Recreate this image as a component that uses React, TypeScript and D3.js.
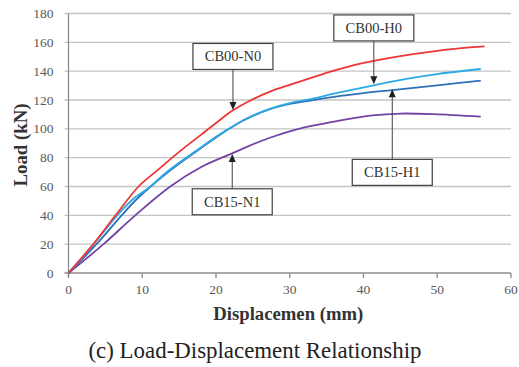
import React from 'react';
import * as d3 from 'd3';

type Pt = [number, number];

// displacement (mm) / load (kN)
const cb00N0: Pt[] = [
  [0, 0], [3.2, 19], [6.3, 39.5], [9.5, 60], [12, 71], [15, 84], [18, 96], [20, 104],
  [22.2, 112.5], [25, 120.5], [27.4, 126], [30, 130.5], [33, 135.5], [36, 140.3], [39, 144.5],
  [41.2, 147], [45, 150.5], [49.5, 153.8], [53, 155.8], [56.4, 157.2]
];
const cb00H0: Pt[] = [
  [0, 0], [3.4, 20], [6.6, 40], [8.8, 51.5], [11, 59.5], [12.5, 66.5], [13.8, 72], [17.5, 85.5],
  [20, 94.5], [21.9, 100.6], [24, 106.8], [27.4, 114], [30, 117.8], [33, 120.8], [36, 124.4],
  [41.4, 130.2], [46, 134.8], [50, 138], [55.9, 141.5]
];
const cb15H1: Pt[] = [
  [0, 0], [3.8, 20], [7.2, 40], [9.3, 51.5], [11.5, 61.5], [13.8, 71.2], [17.5, 85], [20, 94],
  [21.9, 100.4], [24, 106.5], [27.4, 113.8], [30, 117.3], [33, 119.8], [36, 122.2], [40, 124.8],
  [43.9, 126.9], [50, 130.2], [55.9, 133.4]
];
const cb15N1: Pt[] = [
  [0, 0], [4.75, 20], [9.05, 40], [13.8, 60], [18, 73.5], [22.2, 83], [24.5, 88.2], [27.4, 94],
  [30, 98.3], [32.8, 101.8], [36, 105], [41.2, 109.3], [45, 110.6], [49.5, 110.2], [55.9, 108.4]
];

const xTicks = [0, 10, 20, 30, 40, 50, 60];
const yTicks = [0, 20, 40, 60, 80, 100, 120, 140, 160, 180];

const series = [
  { name: 'CB15-N1', data: cb15N1, color: '#7244a4' },
  { name: 'CB15-H1', data: cb15H1, color: '#2f6fb8' },
  { name: 'CB00-H0', data: cb00H0, color: '#2caae3' },
  { name: 'CB00-N0', data: cb00N0, color: '#ef3535' }
];

// label, arrow x, arrow tip y, box centre y (data units)
const notes = [
  { label: 'CB00-N0', x: 22.3, tip: 113, box: 150.2 },
  { label: 'CB00-H0', x: 41.4, tip: 131, box: 170 },
  { label: 'CB15-H1', x: 43.9, tip: 127.4, box: 69.8 },
  { label: 'CB15-N1', x: 22.2, tip: 82.6, box: 49.4 }
];

const W = 519;
const H = 367;
const margin = { top: 13.5, right: 8, bottom: 94, left: 68.5 };
const serif = { fontFamily: 'Liberation Serif' };

export default function App() {
  const x = d3.scaleLinear().domain([0, 60]).range([margin.left, W - margin.right]);
  const y = d3.scaleLinear().domain([0, 180]).range([H - margin.bottom, margin.top]);
  const line = d3
    .line<Pt>()
    .x((d) => x(d[0]))
    .y((d) => y(d[1]))
    .curve(d3.curveCatmullRom.alpha(0.5));

  const bw = 80;
  const bh = 26;

  return (
    <svg width={W} height={H} style={{ position: 'absolute', left: 0, top: 0, background: '#fff' }}>
      {yTicks.map((t) => (
        <g key={t}>
          <line x1={x(0) - 4} x2={x(60)} y1={y(t)} y2={y(t)} stroke={t === 0 ? '#8c8c8c' : '#c4c4c4'} strokeWidth={1.3} />
          <text x={x(0) - 15} y={y(t) + 4.5} textAnchor="end" fontSize={13.5} fill="#595959" style={serif}>
            {t}
          </text>
        </g>
      ))}
      <line x1={x(0)} x2={x(0)} y1={y(0) + 4} y2={y(180)} stroke="#8c8c8c" strokeWidth={1.3} />
      {xTicks.map((t) => (
        <g key={t}>
          <line x1={x(t)} x2={x(t)} y1={y(0)} y2={y(0) + 5} stroke="#8c8c8c" strokeWidth={1.3} />
          <text x={x(t)} y={y(0) + 21} textAnchor="middle" fontSize={13.5} fill="#595959" style={serif}>
            {t}
          </text>
        </g>
      ))}

      {series.map((s) => (
        <path key={s.name} d={line(s.data) ?? ''} fill="none" stroke={s.color} strokeWidth={1.8} />
      ))}

      {notes.map((n) => {
        const cx = x(n.x);
        const by = y(n.box);
        const tip = y(n.tip);
        const down = tip > by;
        const start = down ? by + bh / 2 : by - bh / 2;
        const dir = down ? -1 : 1;
        return (
          <g key={n.label}>
            <line x1={cx} x2={cx} y1={start} y2={tip + dir * 6} stroke="#404040" strokeWidth={1} />
            <path
              d={`M${cx},${tip} L${cx - 3.5},${tip + dir * 8} L${cx + 3.5},${tip + dir * 8} Z`}
              fill="#202020"
            />
            <rect x={cx - bw / 2} y={by - bh / 2} width={bw} height={bh} fill="#fff" stroke="#404040" strokeWidth={1.2} />
            <text x={cx} y={by + 5} textAnchor="middle" fontSize={14.5} fill="#333" style={serif}>
              {n.label}
            </text>
          </g>
        );
      })}

      <text
        transform="translate(26.5,145) rotate(-90)"
        textAnchor="middle"
        fontSize={18}
        fontWeight="bold"
        fill="#333"
        textLength={83}
        lengthAdjust="spacingAndGlyphs"
        style={serif}
      >
        Load (kN)
      </text>
      <text
        x={288.3}
        y={319.5}
        textAnchor="middle"
        fontSize={18}
        fontWeight="bold"
        fill="#333"
        textLength={150}
        lengthAdjust="spacingAndGlyphs"
        style={serif}
      >
        Displacemen (mm)
      </text>
      <text
        x={255}
        y={358.3}
        textAnchor="middle"
        fontSize={22.5}
        fill="#222"
        textLength={333}
        lengthAdjust="spacingAndGlyphs"
        style={serif}
      >
        (c) Load-Displacement Relationship
      </text>
    </svg>
  );
}
